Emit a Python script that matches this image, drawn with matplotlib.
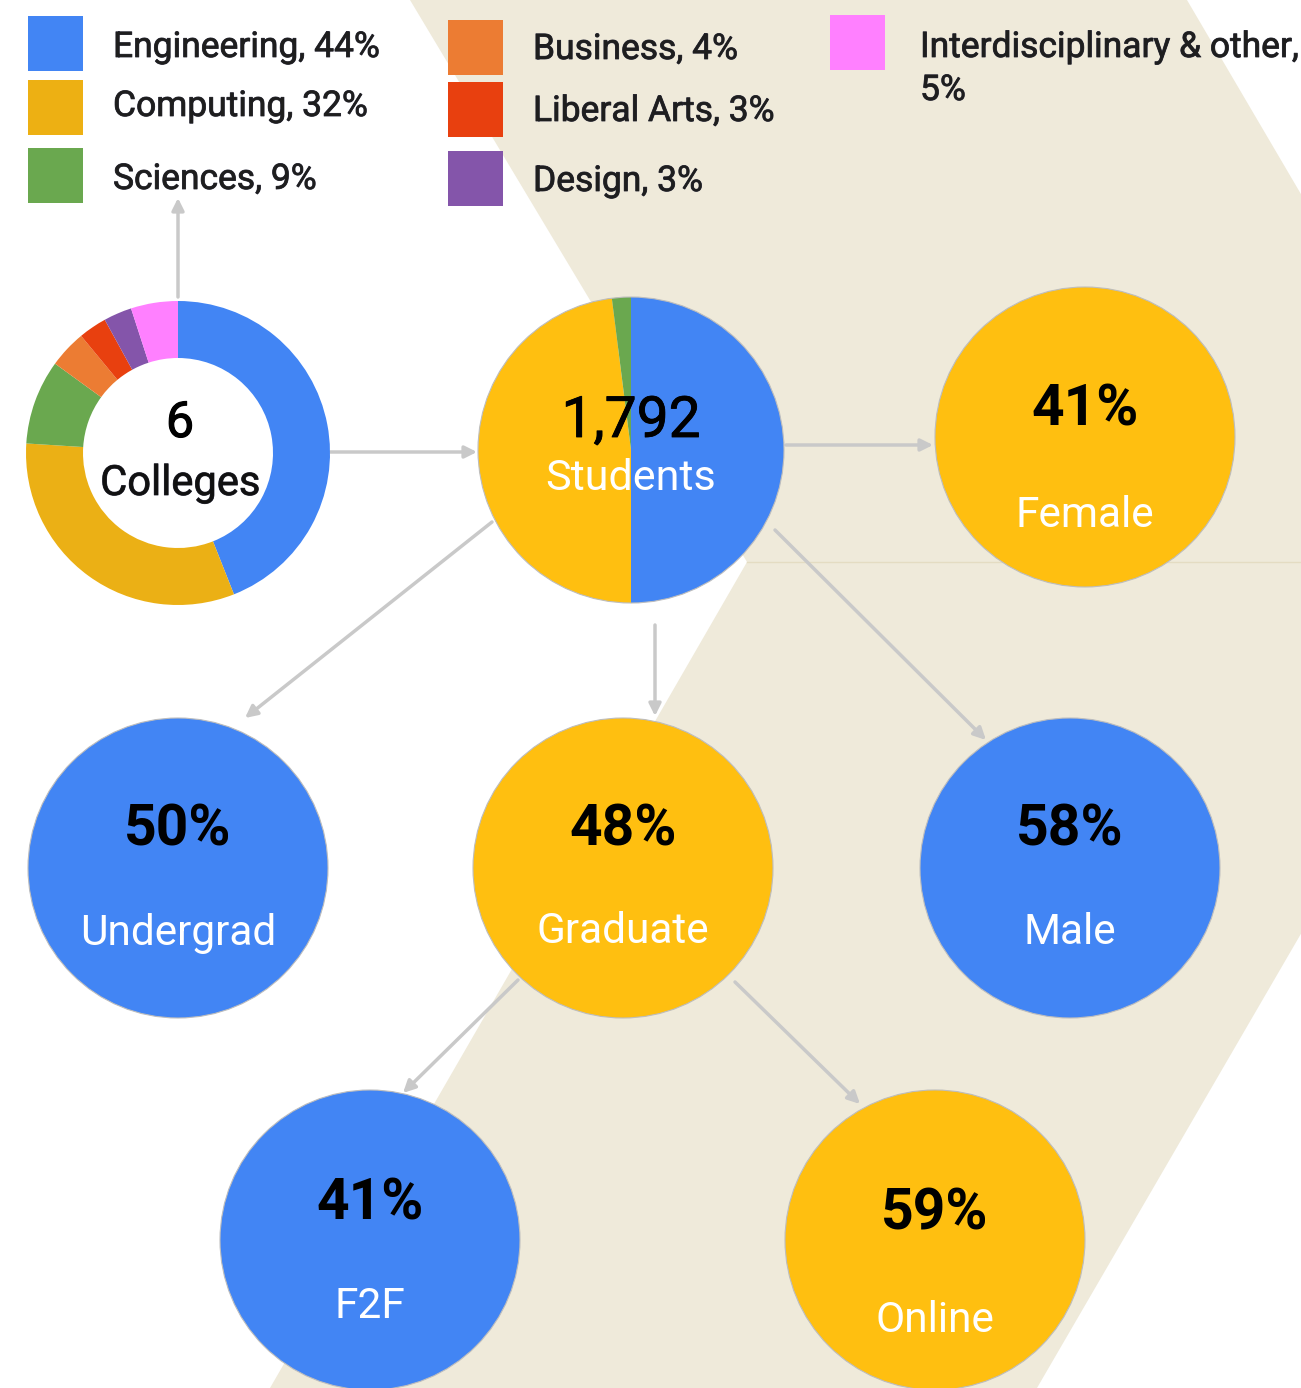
import matplotlib
matplotlib.use("Agg")
import matplotlib.pyplot as plt
from matplotlib.patches import Polygon, Circle, Rectangle
import matplotlib.patheffects as pe

# ---------------- data ----------------
colleges = ["Engineering", "Computing", "Sciences", "Business",
            "Liberal Arts", "Design", "Interdisciplinary & other"]
college_pct = [44, 32, 9, 4, 3, 3, 5]
college_colors = ["#4285F4", "#EBB015", "#6AA84F", "#EC7C33",
                  "#E8400F", "#8455AA", "#FF80FF"]
n_colleges = 6

students_total = 1792
level_labels = ["Undergrad", "Graduate", "Other"]
level_pct = [50, 48, 2]
level_colors = ["#4285F4", "#FFBF10", "#6AA84F"]

gender_labels = ["Female", "Male"]
gender_pct = [41, 58]

delivery_labels = ["F2F", "Online"]
delivery_pct = [41, 59]

BLUE = "#4285F4"
YELLOW = "#FFBF10"
BEIGE = "#EFEADA"
ARROW = "#C9C9C9"

plt.rcParams["font.family"] = ["Roboto", "DejaVu Sans"]

W, H = 1301, 1388
fig = plt.figure(figsize=(W / 100, H / 100), dpi=100)
ax = fig.add_axes([0, 0, 1, 1])
ax.set_facecolor("white")

outline = [pe.withStroke(linewidth=0.6, foreground="#2A2A3A")]

# ---------------- background chevron ----------------
ax.add_patch(Polygon([(410, 0), (1187, 0), (1517, 562), (747, 562)],
                     closed=True, facecolor=BEIGE, edgecolor="none", zorder=0))
ax.add_patch(Polygon([(747, 562), (1517, 562), (1037, 1388), (270, 1388)],
                     closed=True, facecolor=BEIGE, edgecolor="none", zorder=0))
ax.plot([747, 1301], [562, 562], color="#E4DCC2", lw=1, zorder=0.5)

# ---------------- legend ----------------
sq = 55
legend_pos = [(28, 16), (28, 80), (28, 148), (448, 20), (448, 82), (448, 151), (830, 15)]
legend_base = [57, 116, 189, 59, 121, 191, 57]
for i, (name, pct, col) in enumerate(zip(colleges, college_pct, college_colors)):
    x0, y0 = legend_pos[i]
    c = "#EDB013" if i == 1 else col
    ax.add_patch(Rectangle((x0, y0), sq, sq, facecolor=c, edgecolor="none", zorder=2))
    if name.startswith("Interdisciplinary"):
        ax.text(x0 + 90, legend_base[i], f"{name},", fontsize=25.5, color="#1E1E1E",
                va="baseline", ha="left", zorder=3, path_effects=outline)
        ax.text(x0 + 90, legend_base[i] + 43, f"{pct}%", fontsize=25.5, color="#1E1E1E",
                va="baseline", ha="left", zorder=3, path_effects=outline)
    else:
        ax.text(x0 + 85, legend_base[i], f"{name}, {pct}%", fontsize=25.5,
                color="#1E1E1E", va="baseline", ha="left", zorder=3,
                path_effects=outline)

# ---------------- arrows ----------------
def arrow(p0, p1):
    ax.annotate("", xy=p1, xytext=p0,
                arrowprops=dict(arrowstyle="-|>", color=ARROW, lw=2.5,
                                mutation_scale=18, shrinkA=0, shrinkB=0),
                zorder=1)

arrow((178, 297), (178, 198))
arrow((330, 452), (477, 452))
arrow((786, 445), (933, 445))
arrow((655, 625), (655, 716))
arrow((492, 522), (245, 718))
arrow((775, 530), (986, 740))
arrow((518, 980), (403, 1093))
arrow((735, 982), (860, 1104))

# ---------------- colleges donut ----------------
ax.pie(college_pct, colors=college_colors, startangle=-90, counterclock=True,
       center=(178, 453), radius=152,
       wedgeprops=dict(width=57, edgecolor="none"))
ax.text(180, 437, f"{n_colleges}", fontsize=36, color="black",
        ha="center", va="baseline", zorder=4,
        path_effects=[pe.withStroke(linewidth=0.8, foreground="black")])
ax.text(180, 495, "Colleges", fontsize=30, color="#111111",
        ha="center", va="baseline", zorder=4, path_effects=outline)

# ---------------- students pie ----------------
ax.pie(level_pct, colors=level_colors, startangle=-90, counterclock=True,
       center=(631, 450), radius=153,
       wedgeprops=dict(edgecolor="none"))
ax.add_patch(Circle((631, 450), 153, facecolor="none", edgecolor="#BDBDBD",
                    lw=0.8, zorder=3))
ax.text(631, 437, f"{students_total:,}", fontsize=41, color="black",
        ha="center", va="baseline", zorder=4,
        path_effects=[pe.withStroke(linewidth=0.6, foreground="black")])
ax.text(631, 490, "Students", fontsize=31, color="white",
        ha="center", va="baseline", zorder=4)

# ---------------- value circles ----------------
circles = [
    ((1085, 437), f"{gender_pct[0]}%", gender_labels[0], YELLOW, 425, 527),
    ((178, 868), f"{level_pct[0]}%", level_labels[0], BLUE, 845, 945),
    ((623, 868), f"{level_pct[1]}%", level_labels[1], YELLOW, 845, 943),
    ((1070, 868), f"{gender_pct[1]}%", gender_labels[1], BLUE, 845, 944),
    ((370, 1240), f"{delivery_pct[0]}%", delivery_labels[0], BLUE, 1220, 1318),
    ((935, 1240), f"{delivery_pct[1]}%", delivery_labels[1], YELLOW, 1230, 1332),
]
for (cx, cy), val, lab, col, b1, b2 in circles:
    ax.add_patch(Circle((cx, cy), 150, facecolor=col, edgecolor="#BDBDBD",
                        lw=0.8, zorder=2))
    ax.text(cx, b1, val, fontsize=41, fontweight="bold", color="black",
            ha="center", va="baseline", zorder=4)
    ax.text(cx, b2, lab, fontsize=30.5, color="white",
            ha="center", va="baseline", zorder=4)

ax.set_xlim(0, W)
ax.set_ylim(H, 0)
ax.set_aspect("auto")
ax.axis("off")

fig.savefig("out.png", dpi=100, facecolor="white")
